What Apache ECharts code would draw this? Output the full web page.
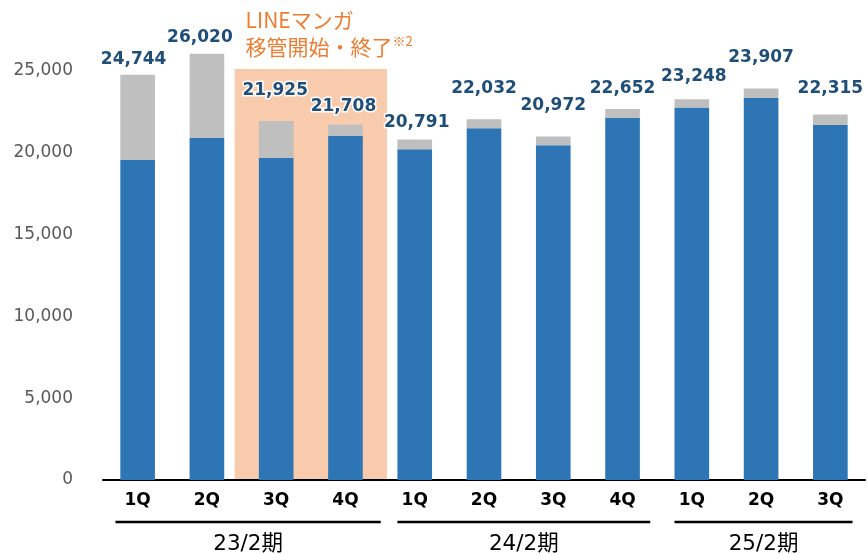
<!DOCTYPE html>
<html>
<head>
<meta charset="utf-8">
<script src="https://cdn.jsdelivr.net/npm/echarts@6/dist/echarts.min.js"></script>
<style>
	html, body { margin: 0; padding: 0; background: #fff; }
	#main { width: 868px; height: 554px; }
</style>
</head>
<body>
<div id="main"></div>
<script>
const quarters = ['1Q', '2Q', '3Q', '4Q', '1Q', '2Q', '3Q', '4Q', '1Q', '2Q', '3Q'];
const totals = [24744, 26020, 21925, 21708, 20791, 22032, 20972, 22652, 23248, 23907, 22315];
const blueValues = [19536, 20879, 19658, 21001, 20190, 21471, 20433, 22100, 22735, 23321, 21673];
const greyValues = [5208, 5141, 2267, 707, 601, 561, 539, 552, 513, 586, 642];
const periods = ['23/2期', '24/2期', '25/2期'];
const periodRanges = [[0, 3], [4, 7], [8, 10]];

// label nudges (px) so the totals sit where the original slide put them
const labelShift = [[-4, -2], [-7, -3], [-1, -17], [-2, -4], [2, -3.5], [0, -17.5], [0, -17], [0, -7], [2, -9], [0, -17], [0, -12]];
// how far each period underline runs past its first / last bar, in bands
const periodPad = [[0.32, 0.51], [0.25, 0.4], [0.25, 0.32]];

const FONT = '"DejaVu Sans", "Noto Sans CJK JP", sans-serif';
const JP_FONT = '"Noto Sans CJK JP", sans-serif';

const chart = echarts.init(document.getElementById('main'));

const option = {
	animation: false,
	grid: { left: 103, top: 5, width: 762, height: 475 },
	xAxis: {
		type: 'category',
		data: quarters,
		axisTick: { show: false },
		axisLine: { lineStyle: { color: '#000', width: 2 } },
		axisLabel: { color: '#000', fontWeight: 'bold', fontSize: 17, fontFamily: FONT, margin: 12 }
	},
	yAxis: {
		type: 'value',
		min: 0,
		max: 29000,
		interval: 5000,
		splitLine: { show: false },
		axisLine: { show: false },
		axisTick: { show: false },
		axisLabel: {
			color: '#595959',
			fontSize: 17,
			fontFamily: FONT,
			margin: 30,
			showMaxLabel: false,
			formatter: (v) => v.toLocaleString('en-US')
		}
	},
	series: [
		{
			type: 'bar',
			stack: 'users',
			barWidth: '50%',
			z: 2,
			itemStyle: { color: '#2E75B6' },
			data: blueValues
		},
		{
			type: 'bar',
			stack: 'users',
			barWidth: '50%',
			z: 2,
			itemStyle: { color: '#BFBFBF' },
			label: {
				show: true,
				position: 'top',
				color: '#1F4E79',
				fontWeight: 'bold',
				fontSize: 17,
				fontFamily: FONT,
				textBorderColor: '#fff',
				textBorderWidth: 3,
				formatter: (p) => totals[p.dataIndex].toLocaleString('en-US')
			},
			data: greyValues.map((v, i) => ({ value: v, label: { offset: labelShift[i] } }))
		}
	]
};

chart.setOption(option);

// extras placed through the chart's own scales
const px = (i) => chart.convertToPixel({ xAxisIndex: 0 }, i);
const py = (v) => chart.convertToPixel({ yAxisIndex: 0 }, v);
const bw = px(1) - px(0);
const baseY = py(0);

const boxLeft = px(2) - 0.6 * bw;
const boxRight = px(3) + 0.6 * bw;
const boxTop = py(25100);

const elements = [
	{
		type: 'rect',
		z: 0,
		shape: { x: boxLeft, y: boxTop, width: boxRight - boxLeft, height: baseY - boxTop - 1 },
		style: { fill: '#F8CBAD' }
	},
	{
		type: 'text',
		z: 5,
		style: {
			text: 'LINEマンガ',
			x: boxLeft + 11,
			y: 20,
			fill: '#ED7D31',
			font: '21px ' + JP_FONT,
			align: 'left', verticalAlign: 'middle',
			textAlign: 'left', textVerticalAlign: 'middle'
		}
	},
	{
		type: 'text',
		z: 5,
		style: {
			text: '移管開始・終了{s|※2}',
			x: boxLeft + 11,
			y: 47,
			fill: '#ED7D31',
			font: '21px ' + JP_FONT,
			align: 'left', verticalAlign: 'middle',
			textAlign: 'left', textVerticalAlign: 'middle',
			rich: {
				s: { fontSize: 13, fontFamily: JP_FONT, fill: '#ED7D31', padding: [0, 0, 12, 0] }
			}
		}
	}
];

periods.forEach((name, k) => {
	const [a, b] = periodRanges[k];
	const x1 = px(a) - periodPad[k][0] * bw;
	const x2 = px(b) + periodPad[k][1] * bw;
	elements.push({
		type: 'line',
		shape: { x1: x1, y1: baseY + 42, x2: x2, y2: baseY + 42 },
		style: { stroke: '#000', lineWidth: 2.5 }
	});
	elements.push({
		type: 'text',
		style: {
			text: name,
			x: (x1 + x2) / 2,
			y: baseY + 64,
			fill: '#000',
			font: '21.5px ' + FONT,
			align: 'center', verticalAlign: 'middle',
			textAlign: 'center', textVerticalAlign: 'middle'
		}
	});
});

chart.setOption({ graphic: { elements: elements } });
</script>
</body>
</html>
